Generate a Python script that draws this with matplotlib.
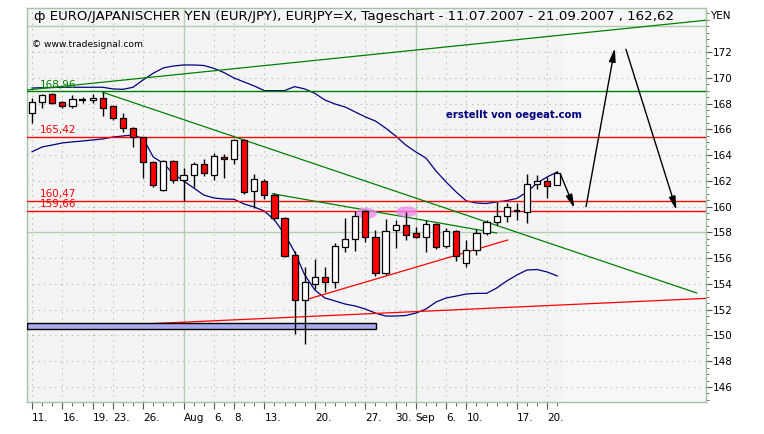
import numpy as np
import pandas as pd
import matplotlib
matplotlib.use('Agg')
import matplotlib.pyplot as plt
import matplotlib.patches as mpatches

plt.rcParams['font.family'] = ['DejaVu Sans']

# trading days shown (EUR/JPY daily, 11.07.2007 - 21.09.2007)
dates = pd.bdate_range('2007-07-11', '2007-09-21')

opens = [167.24, 168.10, 168.72, 168.10, 167.83, 168.26, 168.27, 168.41, 167.83, 166.85,
         166.08, 165.38, 163.44, 161.29, 163.54, 162.07, 162.45, 163.31, 162.45, 163.88,
         163.67, 165.17, 161.21, 161.99, 160.90, 159.09, 156.24, 152.75, 153.97, 154.51,
         154.13, 156.89, 157.46, 159.68, 157.62, 154.82, 158.19, 158.57, 157.98, 157.62,
         158.63, 156.94, 158.11, 155.65, 156.63, 157.98, 158.78, 159.27, 159.64, 159.56,
         161.76, 162.01, 161.68]
highs = [168.41, 168.74, 168.78, 168.20, 168.66, 168.48, 168.72, 168.87, 167.90, 167.29,
         166.20, 165.43, 163.56, 163.60, 163.60, 162.97, 163.44, 163.70, 164.14, 164.08,
         165.25, 165.25, 162.53, 162.17, 161.03, 159.17, 156.55, 155.29, 155.93, 155.34,
         157.20, 159.14, 159.68, 159.74, 158.19, 159.01, 158.96, 159.61, 158.39, 158.96,
         158.70, 158.32, 158.20, 157.41, 158.24, 158.96, 160.38, 160.26, 160.26, 162.53,
         162.45, 162.32, 162.76]
lows = [166.47, 167.68, 167.94, 167.63, 167.63, 168.02, 168.02, 167.06, 166.70, 165.81,
        164.65, 162.20, 161.50, 161.24, 161.81, 160.46, 161.55, 162.40, 162.07, 162.20,
        163.28, 160.96, 159.92, 160.57, 158.95, 156.07, 150.09, 149.31, 153.61, 153.40,
        153.71, 156.50, 156.58, 157.28, 154.61, 154.70, 156.76, 157.41, 157.54, 156.50,
        156.69, 156.80, 155.78, 155.29, 156.24, 157.80, 158.57, 158.83, 158.96, 158.75,
        161.37, 160.65, 161.68]
closes = [168.10, 168.66, 168.02, 167.81, 168.33, 168.28, 168.41, 167.63, 166.85, 166.08,
          165.38, 163.44, 161.68, 163.54, 162.07, 162.45, 163.31, 162.58, 163.93, 163.67,
          165.17, 161.16, 162.12, 160.90, 159.09, 156.19, 152.75, 154.13, 154.51, 154.13,
          156.94, 157.46, 159.27, 157.62, 154.82, 158.13, 158.57, 157.80, 157.62, 158.63,
          156.89, 158.11, 156.17, 156.63, 157.98, 158.78, 159.27, 160.00, 159.68, 161.73,
          162.01, 161.62, 162.59]

# bollinger bands
upper_band = [169.20, 169.23, 169.24, 169.26, 169.26, 169.26, 169.26, 169.26, 169.13, 169.10,
              169.26, 169.83, 170.35, 170.76, 170.91, 170.99, 170.99, 170.95, 170.73, 170.40,
              169.98, 169.67, 169.36, 169.00, 169.00, 169.00, 169.31, 169.13, 168.79, 168.27,
              167.96, 167.73, 167.34, 166.96, 166.64, 166.10, 165.48, 164.78, 164.24, 163.77,
              162.76, 161.91, 161.13, 160.44, 160.28, 160.24, 160.36, 160.47, 160.63, 161.13,
              161.83, 162.30, 162.69]
lower_band = [164.26, 164.63, 164.78, 164.94, 165.02, 165.09, 165.17, 165.25, 165.40, 165.48,
              165.56, 165.29, 163.85, 163.36, 162.53, 161.99, 161.45, 160.90, 160.67, 160.59,
              160.57, 160.20, 159.97, 159.66, 158.96, 157.87, 156.48, 154.69, 153.53, 152.91,
              152.68, 152.44, 152.29, 152.05, 151.74, 151.51, 151.51, 151.55, 151.74, 152.05,
              152.60, 152.91, 153.06, 153.22, 153.27, 153.27, 153.68, 154.23, 154.69, 155.08,
              155.12, 154.93, 154.62]

# horizontal levels
green_levels = [168.96]
red_levels = [165.42, 160.47, 159.66]

# drawn trend lines: (x0, y0, x1, y1) in trading-day index / yen
green_lines = [(-0.5, 169.05, 66.73, 174.46),
               (7.0, 168.87, 65.8, 153.30),
               (23.8, 161.00, 46.0, 157.95)]
red_lines = [(27.0, 152.75, 47.1, 157.41),
             (-0.5, 150.48, 66.73, 152.88)]

# forecast arrows
arrows = [((52.3, 162.55), (53.7, 159.89)),
          ((54.85, 159.99), (57.7, 172.29)),
          ((58.8, 172.21), (63.8, 159.74))]

tick_dates = ['2007-07-11', '2007-07-16', '2007-07-19', '2007-07-23', '2007-07-26',
              '2007-08-01', '2007-08-06', '2007-08-08', '2007-08-13', '2007-08-20',
              '2007-08-27', '2007-08-30', '2007-09-03', '2007-09-06', '2007-09-10',
              '2007-09-17', '2007-09-20']
tick_labels = ['11.', '16.', '19.', '23.', '26.', 'Aug', '6.', '8.', '13.', '20.',
               '27.', '30.', 'Sep', '6.', '10.', '17.', '20.']
month_starts = ['2007-08-01', '2007-09-03']

W, H = 764, 434
fig = plt.figure(figsize=(W / 100, H / 100), dpi=100)
fig.patch.set_facecolor('white')
ax = fig.add_axes([27 / W, (H - 402) / H, (706 - 27) / W, (402 - 8) / H])
ax.set_facecolor('#f4f4f4')

xmin, xmax = -0.5, 66.73
ymin, ymax = 144.84, 175.41
ax.set_xlim(xmin, xmax)
ax.set_ylim(ymin, ymax)

x = np.arange(len(dates))
date_idx = {d.strftime('%Y-%m-%d'): i for i, d in enumerate(dates)}

# slightly lighter area after the last bar
ax.axvspan(len(dates) - 0.3, xmax, color='#f7f7f7', zorder=0)

# grid
grid_col = '#9fba9f'
for v in range(146, 174, 2):
    if v == 158:
        continue
    ax.axhline(v, color=grid_col, lw=0.8, ls=(0, (1, 4)), zorder=1)
for v in [158, 174]:
    ax.axhline(v, color='#b4ccb4', lw=1.0, zorder=1)
for d in tick_dates:
    if d in month_starts:
        ax.axvline(date_idx[d], color='#b4ccb4', lw=1.0, zorder=1)
    else:
        ax.axvline(date_idx[d], color=grid_col, lw=0.8, ls=(0, (1, 4)), zorder=1)

# bollinger bands
ax.plot(x, upper_band, color='#000080', lw=0.9, zorder=3)
ax.plot(x, lower_band, color='#000080', lw=0.9, zorder=3)

# horizontal levels with their labels
for v in green_levels:
    ax.axhline(v, color='#008000', lw=1.0, zorder=3)
    ax.text(0.75, v + 0.12, f'{v:.2f}'.replace('.', ','), color='#008000',
            fontsize=7.5, va='bottom', zorder=5)
for v in red_levels:
    ax.axhline(v, color='#ff0000', lw=1.0, zorder=3)
    ax.text(0.75, v + 0.12, f'{v:.2f}'.replace('.', ','), color='#ff0000',
            fontsize=7.5, va='bottom', zorder=5)

for x0, y0, x1, y1 in green_lines:
    ax.plot([x0, x1], [y0, y1], color='#008000', lw=0.9, zorder=3)
for x0, y0, x1, y1 in red_lines:
    ax.plot([x0, x1], [y0, y1], color='#ff0000', lw=0.9, zorder=3)

# blue support box
ax.add_patch(mpatches.Rectangle((-0.5, 150.49), 34.6, 0.47, facecolor='#aaaaee',
                                edgecolor='black', lw=1.0, zorder=4))

# pink highlights
for cx, cy in [(33.1, 159.48), (37.1, 159.6)]:
    ax.add_patch(mpatches.Ellipse((cx, cy), 2.1, 0.85, facecolor='#ee88ee',
                                  edgecolor='none', alpha=0.75, zorder=4))

# candles
for i in x:
    o, h, l, c = opens[i], highs[i], lows[i], closes[i]
    ax.vlines(i, l, h, color='black', lw=1.0, zorder=5)
    if abs(c - o) < 0.1:
        ax.hlines((o + c) / 2, i - 0.32, i + 0.32, color='black', lw=1.6, zorder=6)
        continue
    col = 'white' if c > o else '#ff0000'
    ax.bar(i, abs(c - o), bottom=min(o, c), width=0.62, color=col,
           edgecolor='black', linewidth=0.9, zorder=6)

# forecast arrows
for (x0, y0), (x1, y1) in arrows:
    ax.annotate('', xy=(x1, y1), xytext=(x0, y0),
                arrowprops=dict(arrowstyle='-|>,head_length=0.8,head_width=0.2',
                                color='black', lw=1.0, shrinkA=0, shrinkB=0), zorder=7)

ax.text(47.7, 167.11, 'erstellt von oegeat.com', color='#000080', fontsize=7.3,
        fontweight='bold', ha='center', va='center', zorder=7)

# title and copyright inside the frame
ax.text(0.2, 174.72, '\u0444 EURO/JAPANISCHER YEN (EUR/JPY), EURJPY=X, Tageschart - '
        '11.07.2007 - 21.09.2007 , 162,62', fontsize=9.6, va='center', ha='left', zorder=7)
ax.text(0.0, 172.6, '\u00a9 www.tradesignal.com', fontsize=6.6, va='center', ha='left', zorder=7)

# axes styling
for s in ax.spines.values():
    s.set_color('#a8c0a8')
    s.set_linewidth(1.0)

ax.yaxis.tick_right()
ax.set_yticks(range(146, 174, 2))
ax.set_yticks(np.arange(145, 175.1, 0.5), minor=True)
ax.tick_params(axis='y', which='major', length=4, width=0.8, color='#555555',
               labelsize=7.5, pad=1)
ax.tick_params(axis='y', which='minor', length=2, width=0.6, color='#555555')
fig.text(710 / W, 1 - 16 / H, 'YEN', fontsize=7.5, va='center', ha='left')

ax.set_xticks([date_idx[d] for d in tick_dates])
ax.set_xticklabels(tick_labels, ha='left')
ax.set_xticks(x, minor=True)
ax.tick_params(axis='x', which='major', length=5, width=0.8, color='#555555',
               labelsize=7.5, pad=3)
ax.tick_params(axis='x', which='minor', length=3, width=0.6, color='#555555')

fig.savefig('out.png', dpi=100, facecolor='white')
